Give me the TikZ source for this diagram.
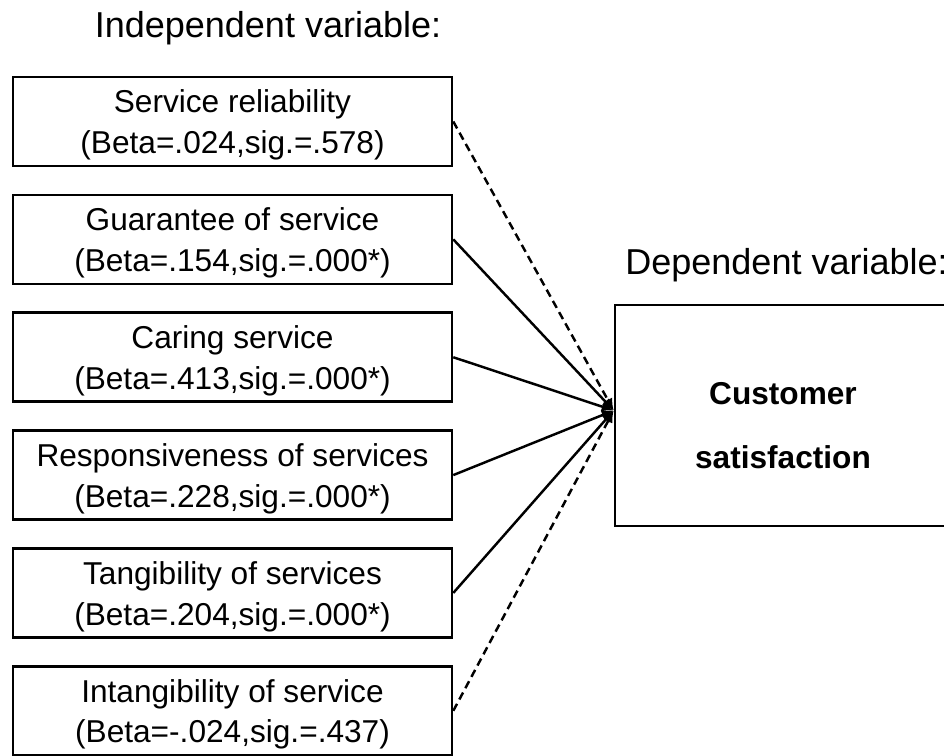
\documentclass[tikz,border=0pt]{standalone}
\usepackage{fontspec}
\setmainfont{Liberation Sans}
\usetikzlibrary{arrows.meta,positioning}
% two centred lines, the first one pushed a little lower
\newcommand{\twolines}[3]{\rule{0pt}{#1}#2\\#3}
\tikzset{
  varbox/.style={draw, line width=1.5pt, align=center,
                 minimum width=8.78cm, minimum height=1.78cm, inner sep=0pt,
                 font=\fontsize{18}{23.3}\selectfont},
  depbox/.style={draw, line width=1.5pt, align=center,
                 minimum width=6.72cm, minimum height=4.42cm, inner sep=0pt,
                 font=\fontsize{18}{36.4}\selectfont\bfseries},
  heading/.style={inner sep=0pt, font=\fontsize{20.5}{24}\selectfont},
  sig/.style={-{Latex[length=2.4mm,width=2mm]}, line width=1.4pt},
  nonsig/.style={sig, dash pattern=on 4.5pt off 2.8pt}
}
\begin{document}
\begin{tikzpicture}[x=0.02cm, y=-0.02cm, node distance=0.525cm]
  \useasboundingbox (0,0) rectangle (944,755);
  \clip (0,0) rectangle (944,755);
  % independent variables
  \node[heading] (indep) at (268,28) {Independent variable:};
  \node[varbox] (rel) at (232.5,121.5) {\twolines{17pt}{Service reliability}{(Beta=.024,sig.=.578)}};
  \node[varbox, below=of rel] (guar) {\twolines{17pt}{Guarantee of service}{(Beta=.154,sig.=.000*)}};
  \node[varbox, below=of guar] (care) {\twolines{17pt}{Caring service}{(Beta=.413,sig.=.000*)}};
  \node[varbox, below=of care] (resp) {\twolines{17pt}{Responsiveness of services}{(Beta=.228,sig.=.000*)}};
  \node[varbox, below=of resp] (tang) {\twolines{17pt}{Tangibility of services}{(Beta=.204,sig.=.000*)}};
  \node[varbox, below=of tang] (intang) {\twolines{17pt}{Intangibility of service}{(Beta=-.024,sig.=.437)}};
  % dependent variable
  \node[depbox] (sat) at (783,415.5) {\twolines{24.5pt}{Customer}{satisfaction}};
  \node[heading, anchor=west] (dep) at (625,265) {Dependent variable:};
  \coordinate (hub) at ([yshift=0.1cm]sat.west);
  \draw[nonsig] (rel.east) -- (hub);
  \draw[sig] (guar.east) -- (hub);
  \draw[sig] (care.east) -- (hub);
  \draw[sig] (resp.east) -- (hub);
  \draw[sig] (tang.east) -- (hub);
  \draw[nonsig] (intang.east) -- (hub);
\end{tikzpicture}
\end{document}
